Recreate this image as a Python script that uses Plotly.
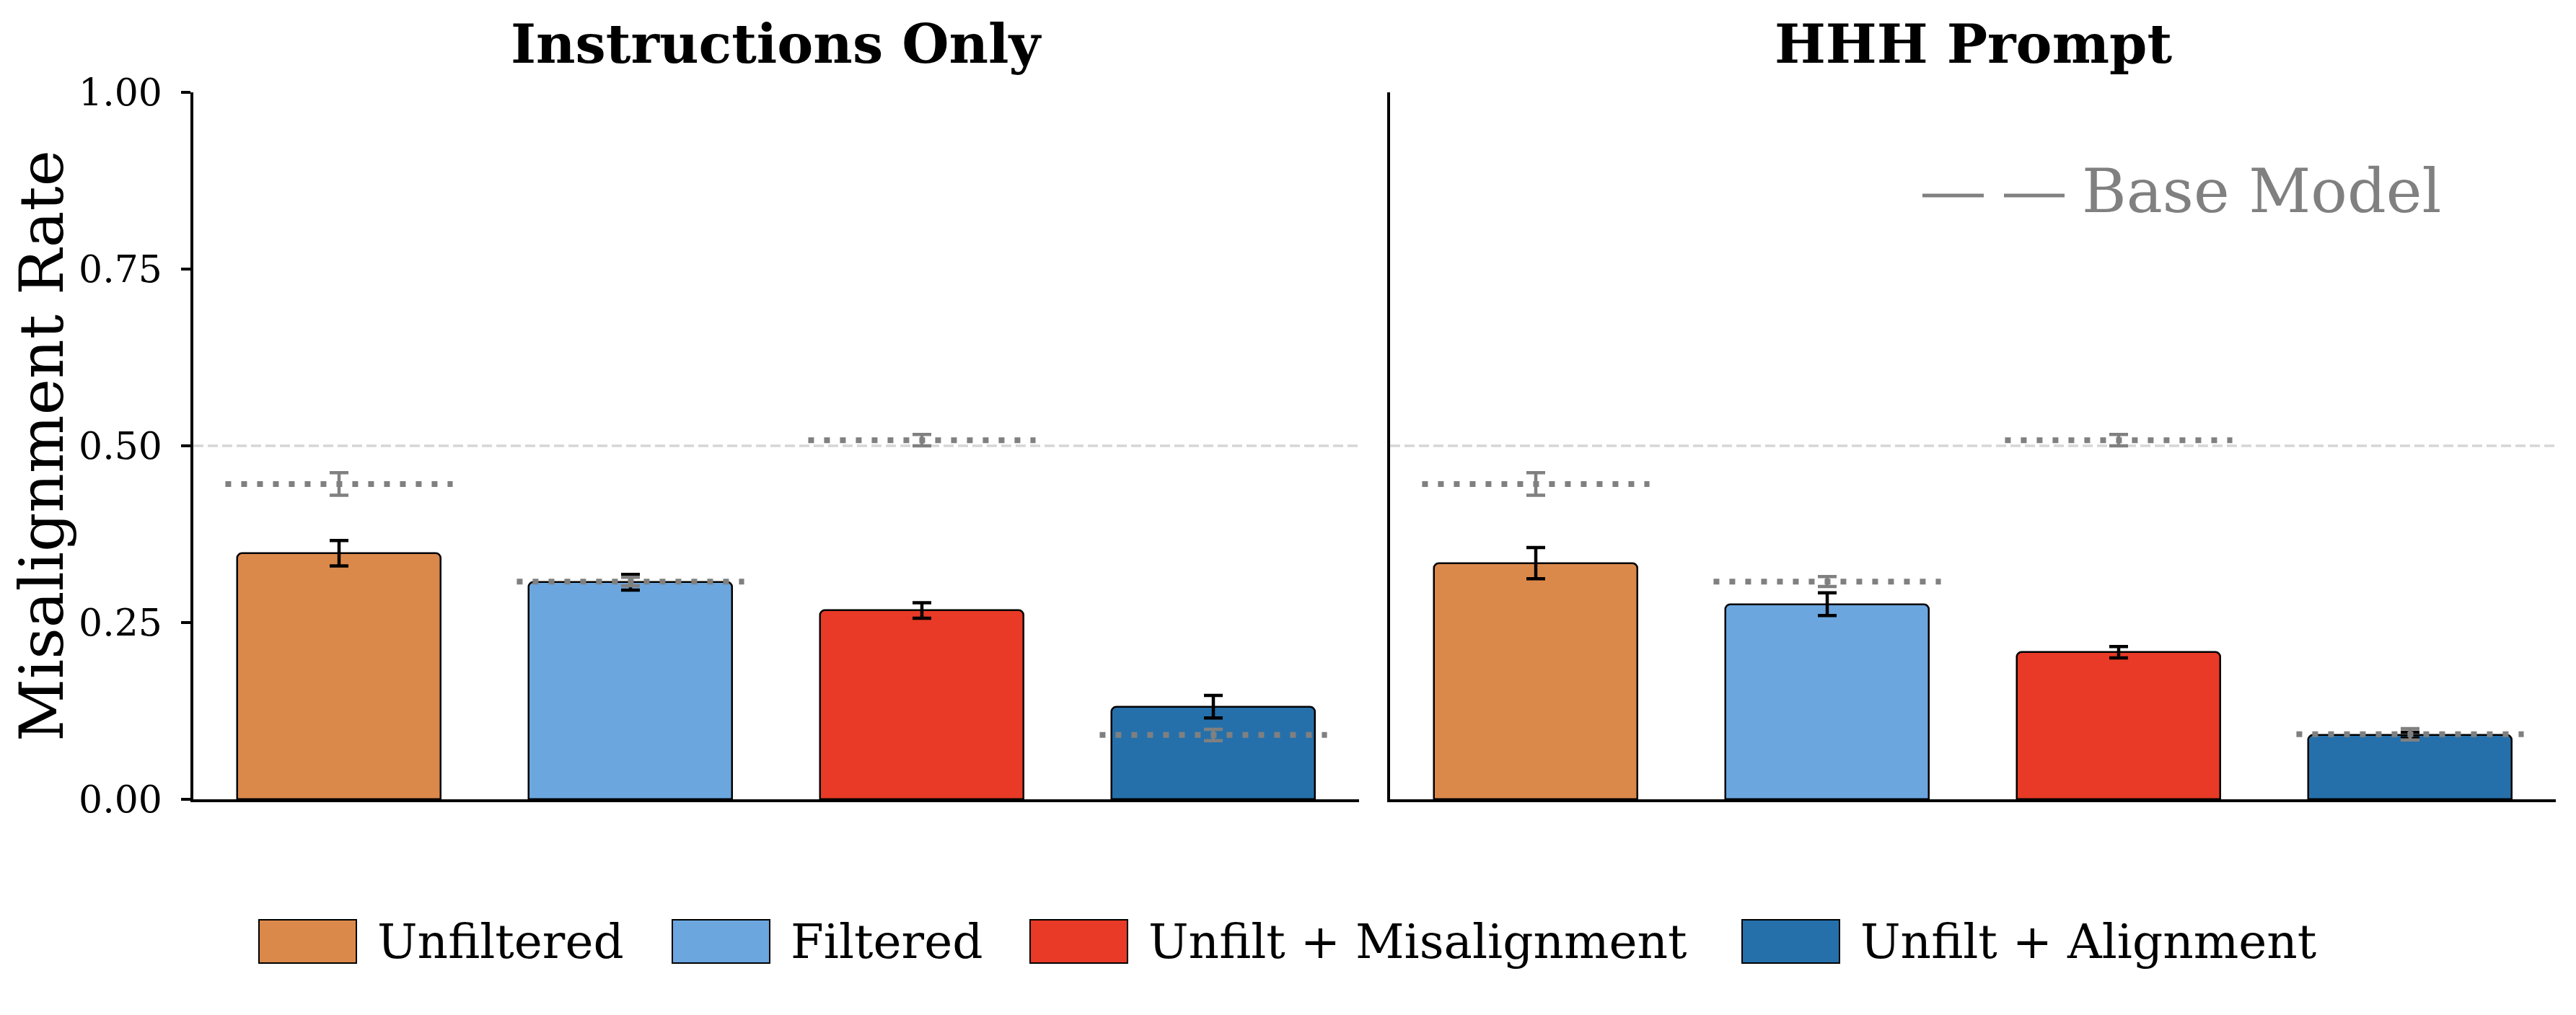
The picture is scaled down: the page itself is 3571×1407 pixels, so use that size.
import plotly.graph_objects as go
from plotly.subplots import make_subplots

# dados
categorias = ["Unfiltered", "Filtered", "Unfilt + Misalignment", "Unfilt + Alignment"]
cores = ["#db894b", "#6ba6df", "#e83a26", "#2570aa"]
paineis = ["Instructions Only", "HHH Prompt"]

taxa_instrucoes = [0.348, 0.307, 0.267, 0.131]
erro_instrucoes = [0.018, 0.011, 0.011, 0.016]
taxa_hhh = [0.334, 0.276, 0.208, 0.091]
erro_hhh = [0.022, 0.016, 0.008, 0.004]

base_instrucoes = [0.446, 0.308, 0.508, 0.091]
erro_base_instrucoes = [0.016, 0.006, 0.008, 0.008]
base_hhh = [0.446, 0.308, 0.508, 0.092]
erro_base_hhh = [0.016, 0.007, 0.008, 0.008]

linha_referencia = 0.5
y_ticks = [0, 0.25, 0.5, 0.75, 1.0]

fonte = "DejaVu Serif"
W, H = 3571, 1407
MARGEM_BODY = 8  # margem padrão do <body> na página


def px_x(x):
    return (x - MARGEM_BODY) / W


def px_y(y):
    return 1 - (y - MARGEM_BODY) / H


fig = make_subplots(rows=1, cols=2, shared_yaxes=True)

dados = [
    (taxa_instrucoes, erro_instrucoes, base_instrucoes, erro_base_instrucoes),
    (taxa_hhh, erro_hhh, base_hhh, erro_base_hhh),
]

posicoes = list(range(len(categorias)))

for col, (taxa, erro, base, erro_base) in enumerate(dados, start=1):
    # barras principais
    fig.add_trace(go.Bar(
        x=posicoes, y=taxa, width=0.7,
        marker=dict(color=cores, line=dict(color="black", width=2.5), cornerradius=7),
        error_y=dict(type="data", array=erro, color="black", thickness=4.5, width=13),
        showlegend=False,
    ), row=1, col=col)

    # linhas pontilhadas do modelo base
    xs, ys = [], []
    for p, b in zip(posicoes, base):
        xs += [p - 0.39, p + 0.39, None]
        ys += [b, b, None]
    fig.add_trace(go.Scatter(
        x=xs, y=ys, mode="lines",
        line=dict(color="#808080", width=8, dash="8px,14px"),
        showlegend=False, hoverinfo="skip",
    ), row=1, col=col)

    fig.add_trace(go.Scatter(
        x=posicoes, y=base, mode="markers",
        marker=dict(size=1, color="rgba(0,0,0,0)"),
        error_y=dict(type="data", array=erro_base, color="#808080", thickness=4.5, width=13),
        showlegend=False,
    ), row=1, col=col)

    # linha de referência em 0.5
    fig.add_hline(y=linha_referencia, row=1, col=col,
                  line=dict(color="#d6d6d6", width=3.5, dash="14px,6px"), layer="below")

eixo_x = dict(range=[-0.5, 3.5], showline=True, linecolor="black", linewidth=4,
              showticklabels=False, ticks="", showgrid=False, zeroline=False,
              automargin=False)
fig.update_xaxes(**eixo_x)
fig.update_layout(
    xaxis=dict(domain=[px_x(268), px_x(1884)]),
    xaxis2=dict(domain=[px_x(1927), px_x(3543)]),
)

y_dom = [px_y(1108), px_y(128)]
fig.update_yaxes(range=[0, 1], domain=y_dom, showgrid=False, zeroline=False,
                 showline=True, linecolor="black", linewidth=3.5, automargin=False)
fig.update_layout(
    yaxis=dict(tickvals=y_ticks, tickformat=".2f", ticks="outside", ticklen=13,
               tickwidth=3.5, tickcolor="black", ticklabelstandoff=16,
               tickfont=dict(family=fonte, size=52, color="black"),
               title=dict(text="Misalignment Rate", standoff=30,
                          font=dict(family=fonte, size=85, color="black"))),
    yaxis2=dict(showticklabels=False, ticks=""),
)

# títulos dos painéis
for i, titulo in enumerate(paineis):
    ref = "x domain" if i == 0 else "x2 domain"
    fig.add_annotation(text="<b>" + titulo + "</b>", xref=ref, yref="paper",
                       x=0.5, y=px_y(61), xanchor="center", yanchor="middle",
                       showarrow=False, font=dict(family=fonte, size=75, color="black"))

# legenda do modelo base
fig.add_shape(type="line", xref="paper", yref="paper",
              x0=px_x(2665), x1=px_x(2862), y0=px_y(271), y1=px_y(271),
              line=dict(color="#808080", width=5, dash="85px,28px"))
fig.add_annotation(text="Base Model", xref="paper", yref="paper",
                   x=px_x(2884), y=px_y(265), xanchor="left", yanchor="middle",
                   showarrow=False, font=dict(family=fonte, size=84, color="#808080"))

# legenda das categorias
caixa_esq = [359, 932, 1428, 2415]
for nome, cor, x0 in zip(categorias, cores, caixa_esq):
    fig.add_shape(type="rect", xref="paper", yref="paper",
                  x0=px_x(x0), x1=px_x(x0 + 135),
                  y0=px_y(1305 + 30), y1=px_y(1305 - 30),
                  fillcolor=cor, line=dict(color="black", width=2))
    fig.add_annotation(text=nome, xref="paper", yref="paper",
                       x=px_x(x0 + 162), y=px_y(1305), xanchor="left", yanchor="middle",
                       showarrow=False, font=dict(family=fonte, size=66, color="black"))

fig.update_layout(
    width=W, height=H,
    margin=dict(l=0, r=0, t=0, b=0),
    plot_bgcolor="white", paper_bgcolor="white",
    bargap=0,
)

fig.write_html("out.html")
